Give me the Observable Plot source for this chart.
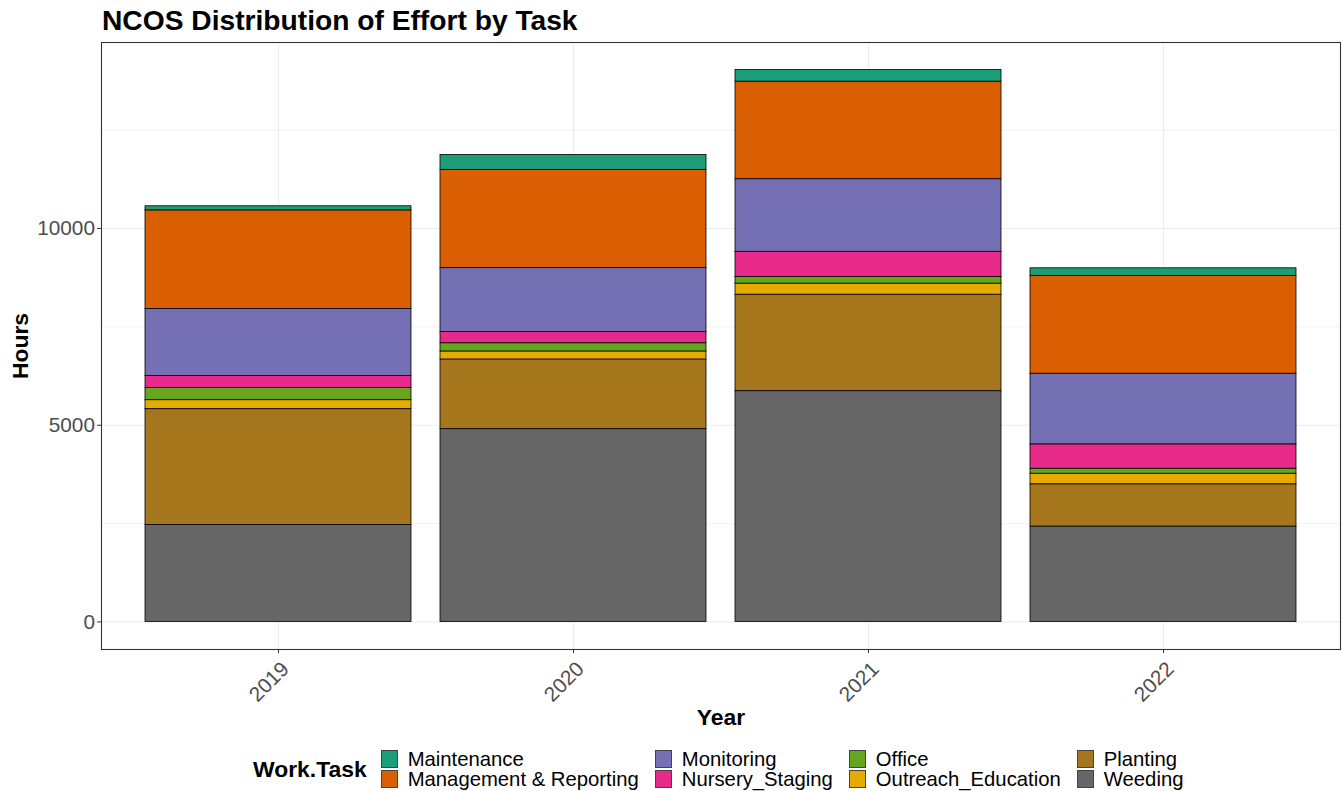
<!DOCTYPE html>
<html>
<head>
<meta charset="utf-8">
<script src="https://cdn.jsdelivr.net/npm/d3@7"></script>
<script src="https://cdn.jsdelivr.net/npm/@observablehq/plot@0.6"></script>
<style>
  html, body { margin: 0; padding: 0; background: #fff; }
  body { width: 1343px; height: 791px; position: relative; overflow: hidden; font-family: "Liberation Sans", Arial, sans-serif; }
  #title { position: absolute; left: 102px; top: 6px; font-size: 28.2px; line-height: 28px; font-weight: bold; color: #000; white-space: nowrap; }
  #chart { position: absolute; left: 0; top: 38px; }
  #legend { position: absolute; left: 253px; top: 749px; display: flex; align-items: center; gap: 14px; }
  #legend .ltitle { font-size: 22.9px; font-weight: bold; color: #000; }
  #legend .grid { display: grid; grid-template-rows: 20px 20px; grid-auto-flow: column; column-gap: 16px; }
  #legend .item { display: flex; align-items: center; gap: 10px; font-size: 20.3px; line-height: 20px; height: 20px; color: #000; white-space: nowrap; }
  #legend .key { width: 17px; height: 18px; box-sizing: border-box; border: 1px solid #444; flex: none; }
</style>
</head>
<body>
<div id="title">NCOS Distribution of Effort by Task</div>
<div id="chart"></div>
<div id="legend"></div>
<script>
const years = ["2019", "2020", "2021", "2022"];
const tasks = ["Maintenance", "Management & Reporting", "Monitoring", "Nursery_Staging", "Office", "Outreach_Education", "Planting", "Weeding"];
const colors = ["#1B9E77", "#D95F02", "#7570B3", "#E7298A", "#66A61E", "#E6AB02", "#A6761D", "#666666"];

// hours per task, one value per year (2019..2022)
const maintenance = [109, 381, 297, 194];
const management = [2505, 2496, 2480, 2488];
const monitoring = [1701, 1624, 1843, 1798];
const nursery = [304, 288, 643, 617];
const office = [312, 211, 169, 127];
const outreach = [229, 203, 280, 271];
const planting = [2944, 1769, 2453, 1074];
const weeding = [2462, 4898, 5863, 2420];

const yTicks = [0, 5000, 10000];
const yMinorTicks = [2500, 7500, 12500];

const series = [maintenance, management, monitoring, nursery, office, outreach, planting, weeding];
const data = [];
tasks.forEach((t, i) => years.forEach((y, j) => data.push({year: y, task: t, hours: series[i][j]})));

const totals = years.map((y, j) => d3.sum(series, s => s[j]));
const maxT = d3.max(totals);
const pad = maxT * 0.05;

const stackOrder = tasks.slice().reverse(); // Weeding at bottom

const plot = Plot.plot({
  width: 1343,
  height: 702,
  marginTop: 4,
  marginBottom: 91,
  marginLeft: 101,
  marginRight: 3,
  style: { fontFamily: "Liberation Sans, Arial, sans-serif", background: "#fff" },
  x: { type: "band", domain: years, paddingInner: 0.1, paddingOuter: 0.15, label: null },
  y: { domain: [-pad, maxT + pad], label: null },
  color: { domain: tasks, range: colors },
  marks: [
    Plot.gridY(yMinorTicks, { stroke: "#EBEBEB", strokeOpacity: 1, strokeWidth: 0.6 }),
    Plot.gridY(yTicks, { stroke: "#EBEBEB", strokeOpacity: 1, strokeWidth: 1.1 }),
    Plot.gridX(years, { stroke: "#EBEBEB", strokeOpacity: 1, strokeWidth: 1.1 }),
    Plot.barY(data, Plot.stackY({ order: stackOrder }, { x: "year", y: "hours", fill: "task", stroke: "#000", strokeWidth: 0.8 })),
    Plot.frame({ stroke: "#333", strokeWidth: 1.1 }),
    Plot.axisY(yTicks, { tickSize: 4, tickPadding: 2.5, fontSize: 20.8, color: "#4D4D4D", stroke: "#333", label: null, tickFormat: d => String(d) }),
    Plot.axisX({ tickSize: 4, stroke: "#333", label: null, tickFormat: () => "" }),
    Plot.axisX({ tickSize: 0, tickPadding: 7, tickRotate: -45, fontSize: 20.8, color: "#4D4D4D", label: null, dx: 7, dy: 9 }),
    Plot.text(["Hours"], { frameAnchor: "left", dx: -81, rotate: -90, textAnchor: "middle", lineAnchor: "middle", fontWeight: "bold", fontSize: 22.9, fill: "#000" }),
    Plot.text(["Year"], { frameAnchor: "bottom", dy: 68, textAnchor: "middle", lineAnchor: "middle", fontWeight: "bold", fontSize: 22.9, fill: "#000" })
  ]
});
document.getElementById("chart").appendChild(plot);

// legend (ggplot-style, column-major, 2 rows)
const legend = document.getElementById("legend");
const lt = document.createElement("div");
lt.className = "ltitle";
lt.textContent = "Work.Task";
legend.appendChild(lt);
const grid = document.createElement("div");
grid.className = "grid";
tasks.forEach((t, i) => {
  const item = document.createElement("div");
  item.className = "item";
  const key = document.createElement("span");
  key.className = "key";
  key.style.background = colors[i];
  const label = document.createElement("span");
  label.textContent = t;
  item.appendChild(key);
  item.appendChild(label);
  grid.appendChild(item);
});
legend.appendChild(grid);
</script>
</body>
</html>
